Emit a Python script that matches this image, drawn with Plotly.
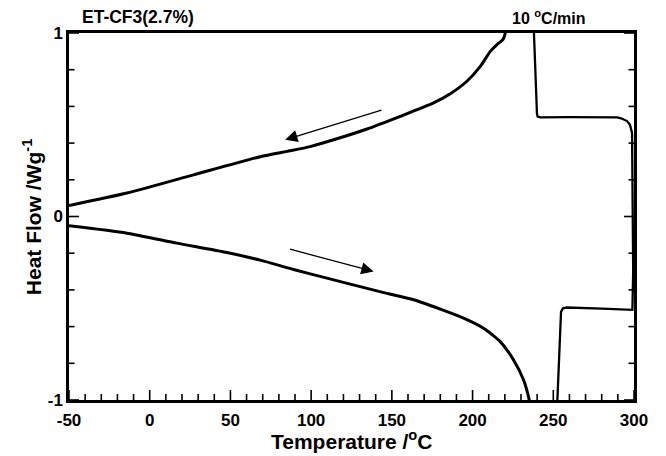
import plotly.graph_objects as go

# Heating scan (lower curve), temperature in °C, heat flow in W/g
heat_T = [-50, -14.1, 16.9, 47.8, 68.5, 89.1, 109.8, 130.4, 145, 163.5, 180, 194.4, 206.8, 217.1, 225.4, 231.6, 235.1, 236.0]
heat_HF = [-0.051, -0.091, -0.145, -0.196, -0.238, -0.289, -0.336, -0.382, -0.415, -0.454, -0.505, -0.554, -0.609, -0.682, -0.782, -0.891, -1.0, -1.05]

# End of melting, isotherm switch at 300 °C, crystallisation onset
trans_T = [252.3, 254.8, 256.0, 258.5, 280.0, 299.0, 299.5, 299.4, 299.2, 298.8, 297.5, 295.7, 292.0, 289.5, 260.0, 242.0, 240.3, 239.9, 237.8]
trans_HF = [-1.05, -0.52, -0.50, -0.496, -0.502, -0.509, -0.3, 0.0, 0.4, 0.455, 0.50, 0.52, 0.535, 0.54, 0.542, 0.54, 0.545, 0.56, 1.05]

# Cooling scan (upper curve)
cool_T = [221.0, 220.3, 218.8, 215.1, 211.0, 204.8, 196.5, 186.2, 175.8, 155.2, 134.6, 113.9, 99.4, 85.0, 68.5, 27.1, -14.1, -50]
cool_HF = [1.05, 1.0, 0.964, 0.937, 0.90, 0.818, 0.737, 0.669, 0.619, 0.546, 0.477, 0.418, 0.381, 0.355, 0.326, 0.227, 0.128, 0.06]

x_range = [-50, 300]
y_range = [-1, 1]
x_major = [-50, 0, 50, 100, 150, 200, 250, 300]
x_minor = [v for v in range(-40, 300, 10) if v % 50 != 0]
y_major = [-1, 0, 1]
y_minor = [-0.8, -0.6, -0.4, -0.2, 0.2, 0.4, 0.6, 0.8]

W, H = 666, 456
M = dict(l=69, r=32, t=33, b=56)
px_per_x = (W - M["l"] - M["r"]) / (x_range[1] - x_range[0])
px_per_y = (H - M["t"] - M["b"]) / (y_range[1] - y_range[0])

fig = go.Figure()
fig.add_trace(go.Scatter(x=heat_T, y=heat_HF, mode="lines",
                         line=dict(color="black", width=3, shape="spline", smoothing=0.6)))
fig.add_trace(go.Scatter(x=trans_T, y=trans_HF, mode="lines",
                         line=dict(color="black", width=2.3)))
fig.add_trace(go.Scatter(x=cool_T, y=cool_HF, mode="lines",
                         line=dict(color="black", width=3, shape="spline", smoothing=0.6)))

# inward tick marks built from the tick values, drawn through the axis scales
tx, ty = [], []
for vals, length_px in ((x_major, 10), (x_minor, 6)):
    for v in vals:
        tx += [v, v, None]
        ty += [y_range[0], y_range[0] + length_px / px_per_y, None]
for vals, length_px in ((y_major, 10), (y_minor, 5.5)):
    d = length_px / px_per_x
    for v in vals:
        tx += [x_range[0], x_range[0] + d, None, x_range[1], x_range[1] - d, None]
        ty += [v, v, None, v, v, None]
fig.add_trace(go.Scatter(x=tx, y=ty, mode="lines", hoverinfo="skip",
                         line=dict(color="black", width=1.6)))

font_b = dict(family="Liberation Sans, Arial", size=17, color="black", weight="bold")

fig.update_layout(
    width=W, height=H,
    margin=M,
    paper_bgcolor="white", plot_bgcolor="white",
    showlegend=False,
    xaxis=dict(range=x_range, tickmode="array", tickvals=x_major,
               ticktext=[str(v) for v in x_major], ticks="",
               showline=True, linecolor="black", linewidth=2.5, mirror=True,
               showgrid=False, zeroline=False, tickfont=font_b, ticklabelstandoff=3),
    yaxis=dict(range=y_range, tickmode="array", tickvals=y_major,
               ticktext=[str(v) for v in y_major], ticks="",
               showline=True, linecolor="black", linewidth=2.5, mirror=True,
               showgrid=False, zeroline=False, tickfont=font_b),
)

annotations = [
    dict(text="ET-CF3(2.7%)", x=0.0195, y=1.0445, xref="paper", yref="paper",
         xanchor="left", yanchor="middle", showarrow=False,
         font=dict(family="Liberation Sans, Arial", size=17.5, color="black", weight="bold")),
    dict(text="10 <sup>o</sup>C/min", x=0.919, y=1.0445, xref="paper", yref="paper",
         xanchor="right", yanchor="middle", showarrow=False,
         font=dict(family="Liberation Sans, Arial", size=16, color="black", weight="bold")),
    dict(text="Temperature /<sup>o</sup>C", x=0.5, y=-0.109, xref="paper", yref="paper",
         xanchor="center", yanchor="middle", showarrow=False,
         font=dict(family="Liberation Sans, Arial", size=21, color="black", weight="bold")),
    dict(text="Heat Flow /Wg<sup>-1</sup>", x=-0.066, y=0.5, xref="paper", yref="paper",
         xanchor="center", yanchor="middle", showarrow=False, textangle=-90,
         font=dict(family="Liberation Sans, Arial", size=21, color="black", weight="bold")),
    dict(x=83.9, y=0.418, ax=144.5, ay=0.582, xref="x", yref="y", axref="x", ayref="y",
         text="", showarrow=True, arrowhead=2, arrowsize=1.9, arrowwidth=1.3, arrowcolor="black"),
    dict(x=138.7, y=-0.30, ax=86.0, ay=-0.176, xref="x", yref="y", axref="x", ayref="y",
         text="", showarrow=True, arrowhead=2, arrowsize=1.9, arrowwidth=1.3, arrowcolor="black"),
]
fig.update_layout(annotations=annotations)

fig.write_html("out.html")
